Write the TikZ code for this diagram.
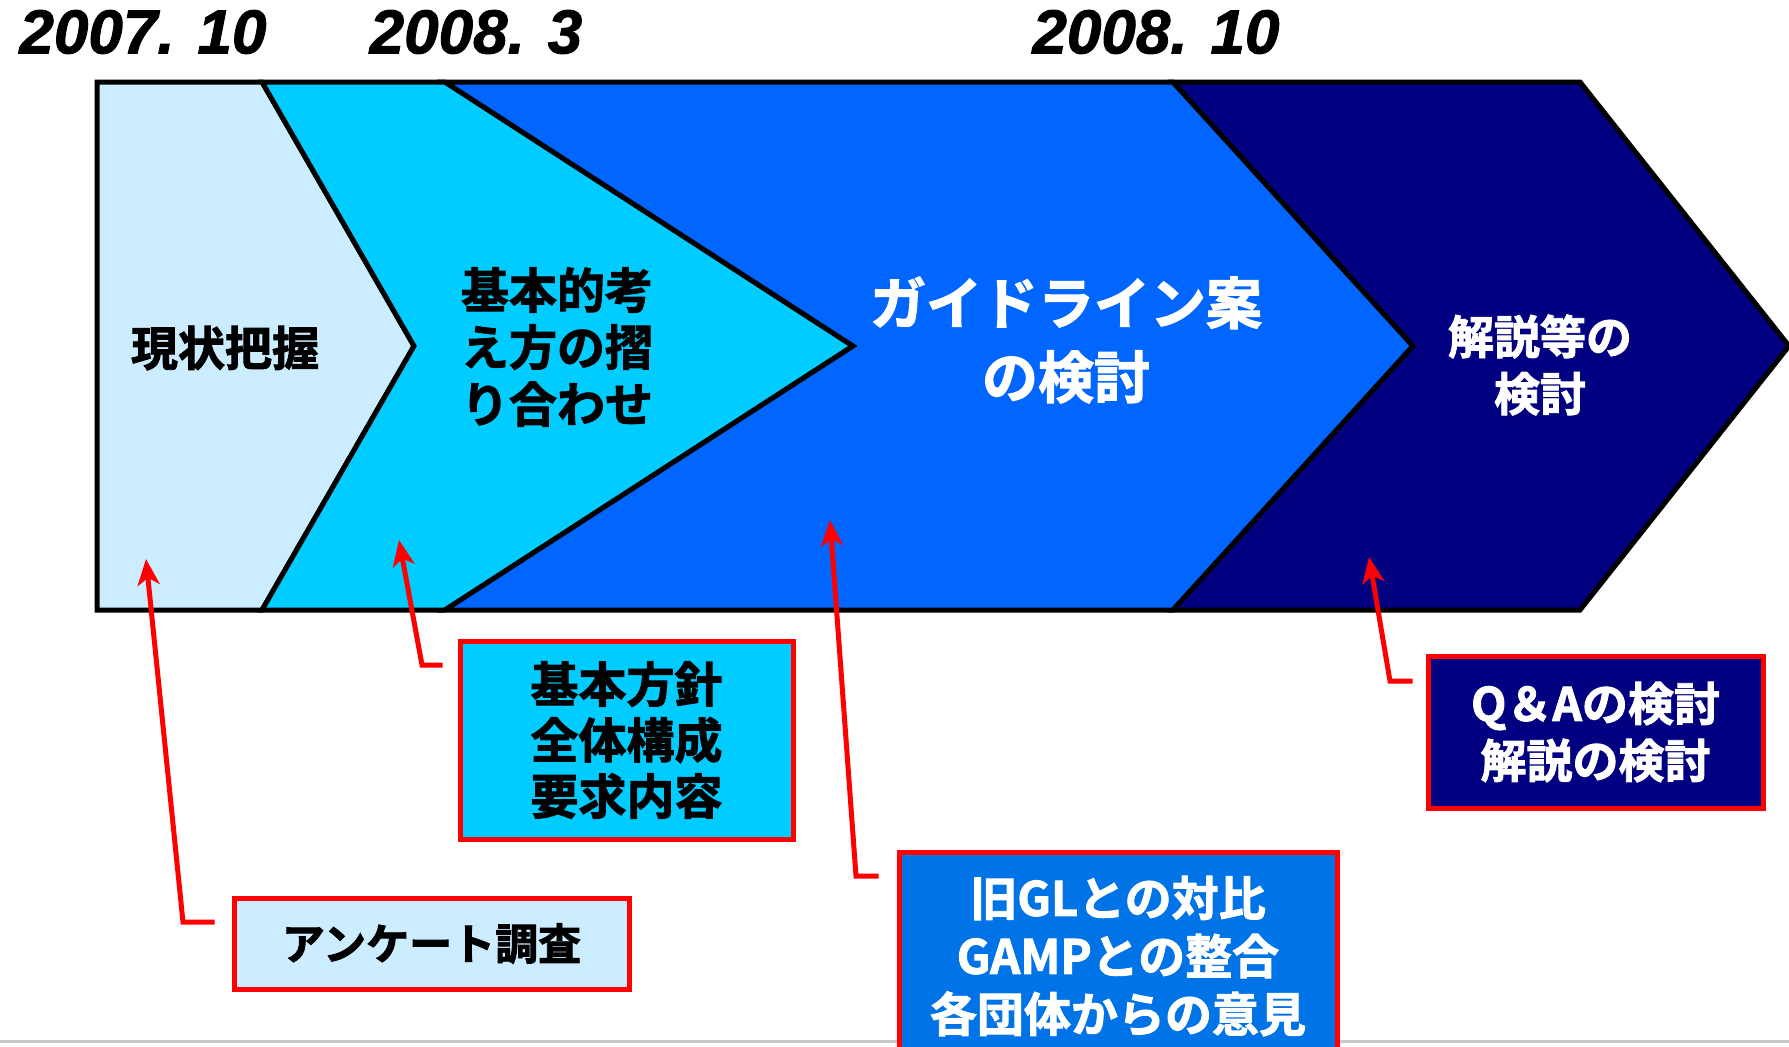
\documentclass[tikz,border=0pt]{standalone}
\usepackage{fontspec}
\newfontfamily\jpb{Noto Sans CJK JP Bold}[FakeBold=2]
\newfontfamily\datefont{Liberation Sans}[BoldItalicFeatures={FakeBold=1.5}]
\usetikzlibrary{arrows.meta,calc}
\definecolor{cA}{HTML}{CCECFF}
\definecolor{cB}{HTML}{00CCFF}
\definecolor{cC}{HTML}{0066FF}
\definecolor{cD}{HTML}{000080}
\definecolor{cE}{HTML}{0073E6}
\definecolor{gline}{HTML}{C8C8C8}
\begin{document}
\begin{tikzpicture}[x=1pt,y=-1pt,
  region/.style={draw=black, line width=5pt, line join=miter},
  callbox/.style={draw=red, line width=5pt, inner sep=0pt, align=center},
  lead/.style={draw=red, line width=5pt, line join=miter, -{Stealth[length=26pt,width=22pt,inset=7pt]}},
  jt/.style={align=center, inner sep=0pt},
  datelabel/.style={font=\datefont\bfseries\itshape\fontsize{62}{70}\selectfont, inner sep=0pt}
]
\useasboundingbox (0,0) rectangle (1789,1047);
\fill[white] (0,0) rectangle (1789,1047);
% bottom gray rule
\draw[gline, line width=3pt] (0,1041) -- (1789,1041);

% dates
\node[datelabel] (d1) at (143,32) {2007. 10};
\node[datelabel] (d2) at (476,32) {2008. 3};
\node[datelabel] (d3) at (1156,32) {2008. 10};

% chevron band
\filldraw[region, fill=cA] (97,82) -- (262,82) -- (414,346) -- (262,610) -- (97,610) -- cycle;
\filldraw[region, fill=cB] (262,82) -- (445,82) -- (853,346) -- (445,610) -- (262,610) -- (414,346) -- cycle;
\filldraw[region, fill=cC] (445,82) -- (1173,82) -- (1413,346) -- (1173,610) -- (445,610) -- (853,346) -- cycle;
\filldraw[region, fill=cD] (1173,82) -- (1580,82) -- (1789,346) -- (1580,610) -- (1173,610) -- (1413,346) -- cycle;

% stage labels
\node[jt, text=black, font=\jpb\fontsize{47}{56}\selectfont] (s1) at (225,348) {現状把握};
\node[jt, text=black, font=\jpb\fontsize{48}{57}\selectfont] (s2) at (557,347) {基本的考\\え方の摺\\り合わせ};
\node[jt, text=white, font=\jpb\fontsize{56}{74}\selectfont] (s3) at (1066,340) {ガイドライン案\\の検討};
\node[jt, text=white, font=\jpb\fontsize{46}{57}\selectfont] (s4) at (1540,365) {解説等の\\検討};

% callout boxes
\node[callbox, fill=cA, minimum width=395pt, minimum height=91pt, font=\jpb\fontsize{43}{52}\selectfont, text=black] (b1) at (431.5,943.5) {アンケート調査};
\node[callbox, fill=cB, minimum width=333pt, minimum height=198pt, font=\jpb\fontsize{48}{56}\selectfont, text=black] (b2) at (626.5,740) {基本方針\\全体構成\\要求内容};
\node[callbox, fill=cE, minimum width=438pt, minimum height=208pt, font=\jpb\fontsize{47}{58}\selectfont, text=white] (b3) at (1118,956) {旧GLとの対比\\GAMPとの整合\\各団体からの意見};
\node[callbox, fill=cD, minimum width=335pt, minimum height=152pt, font=\jpb\fontsize{46}{57}\selectfont, text=white] (b4) at (1595.5,732) {Q＆Aの検討\\解説の検討};

% connector points
\coordinate (t1) at (146,559);
\coordinate (e1) at (183,922);
\coordinate (t2) at (399,540);
\coordinate (e2) at (422,665);
\coordinate (t3) at (830,520);
\coordinate (e3) at (856,876);
\coordinate (t4) at (1369,557);
\coordinate (e4) at (1390,681);

\draw[lead] ($(b1.west)+(-17,-21.5)$) -- (e1) -- (t1);
\draw[lead] ($(b2.west)+(-15,-75)$) -- (e2) -- (t2);
\draw[lead] ($(b3.west)+(-18,-80)$) -- (e3) -- (t3);
\draw[lead] ($(b4.west)+(-13,-51)$) -- (e4) -- (t4);
\end{tikzpicture}
\end{document}
